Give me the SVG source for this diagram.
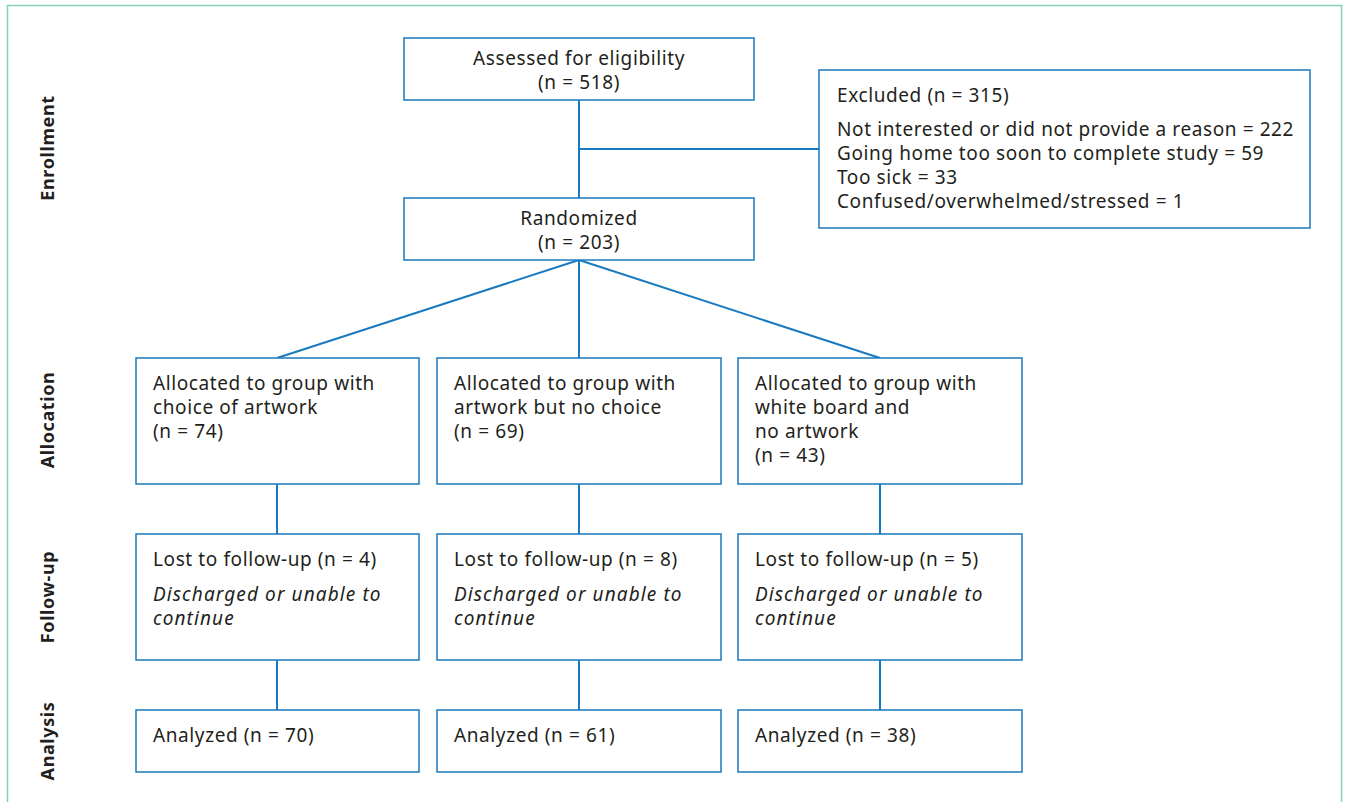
<svg xmlns="http://www.w3.org/2000/svg" width="1346" height="802" viewBox="0 0 1346 802">
<style>
.frame{fill:none;stroke:#86d0bb;stroke-width:1.5}
.box{fill:#fff;stroke:#1a7abf;stroke-width:1.5}
.conn{fill:none;stroke:#1a7abf;stroke-width:2}
text{font-family:"Noto Sans","Liberation Sans",sans-serif;font-size:19px;letter-spacing:0.6px;fill:#231f20}
.c{text-anchor:middle}
.it{font-style:italic;letter-spacing:1.1px}
.sec{font-weight:bold;font-size:18px;letter-spacing:0.6px;text-anchor:middle}
</style>
<rect class="frame" x="7.5" y="5.5" width="1334" height="820"/>
<g id="sections">
<text class="sec" transform="translate(54,148) rotate(-90)">Enrollment</text>
<text class="sec" transform="translate(54,420) rotate(-90)">Allocation</text>
<text class="sec" transform="translate(54,597) rotate(-90)">Follow-up</text>
<text class="sec" transform="translate(54,741) rotate(-90)">Analysis</text>
</g>
<g id="connectors">
<line class="conn" x1="579" y1="100" x2="579" y2="198"/>
<line class="conn" x1="579" y1="149" x2="819" y2="149"/>
<line class="conn" x1="579" y1="260" x2="277" y2="358"/>
<line class="conn" x1="579" y1="260" x2="579" y2="358"/>
<line class="conn" x1="579" y1="260" x2="880" y2="358"/>
<line class="conn" x1="277" y1="484" x2="277" y2="534"/>
<line class="conn" x1="579" y1="484" x2="579" y2="534"/>
<line class="conn" x1="880" y1="484" x2="880" y2="534"/>
<line class="conn" x1="277" y1="660" x2="277" y2="710"/>
<line class="conn" x1="579" y1="660" x2="579" y2="710"/>
<line class="conn" x1="880" y1="660" x2="880" y2="710"/>
</g>
<g id="assessed">
<rect class="box" x="404" y="38" width="350" height="62"/>
<text class="c" x="579" y="65">Assessed for eligibility</text>
<text class="c" x="579" y="89">(n = 518)</text>
</g>
<g id="excluded">
<rect class="box" x="819" y="70" width="491" height="158"/>
<text x="837" y="102">Excluded (n = 315)</text>
<text x="837" y="136">Not interested or did not provide a reason = 222</text>
<text x="837" y="160">Going home too soon to complete study = 59</text>
<text x="837" y="184">Too sick = 33</text>
<text x="837" y="208">Confused/overwhelmed/stressed = 1</text>
</g>
<g id="randomized">
<rect class="box" x="404" y="198" width="350" height="62"/>
<text class="c" x="579" y="225">Randomized</text>
<text class="c" x="579" y="249">(n = 203)</text>
</g>
<g id="alloc1">
<rect class="box" x="136" y="358" width="283" height="126"/>
<text x="153" y="390">Allocated to group with</text>
<text x="153" y="414">choice of artwork</text>
<text x="153" y="438">(n = 74)</text>
</g>
<g id="alloc2">
<rect class="box" x="437" y="358" width="284" height="126"/>
<text x="454" y="390">Allocated to group with</text>
<text x="454" y="414">artwork but no choice</text>
<text x="454" y="438">(n = 69)</text>
</g>
<g id="alloc3">
<rect class="box" x="738" y="358" width="284" height="126"/>
<text x="755" y="390">Allocated to group with</text>
<text x="755" y="414">white board and</text>
<text x="755" y="438">no artwork</text>
<text x="755" y="462">(n = 43)</text>
</g>
<g id="follow1">
<rect class="box" x="136" y="534" width="283" height="126"/>
<text x="153" y="566">Lost to follow-up (n = 4)</text>
<text class="it" x="153" y="601">Discharged or unable to</text>
<text class="it" x="153" y="625">continue</text>
</g>
<g id="follow2">
<rect class="box" x="437" y="534" width="284" height="126"/>
<text x="454" y="566">Lost to follow-up (n = 8)</text>
<text class="it" x="454" y="601">Discharged or unable to</text>
<text class="it" x="454" y="625">continue</text>
</g>
<g id="follow3">
<rect class="box" x="738" y="534" width="284" height="126"/>
<text x="755" y="566">Lost to follow-up (n = 5)</text>
<text class="it" x="755" y="601">Discharged or unable to</text>
<text class="it" x="755" y="625">continue</text>
</g>
<g id="analysis1">
<rect class="box" x="136" y="710" width="283" height="62"/>
<text x="153" y="742">Analyzed (n = 70)</text>
</g>
<g id="analysis2">
<rect class="box" x="437" y="710" width="284" height="62"/>
<text x="454" y="742">Analyzed (n = 61)</text>
</g>
<g id="analysis3">
<rect class="box" x="738" y="710" width="284" height="62"/>
<text x="755" y="742">Analyzed (n = 38)</text>
</g>
</svg>
